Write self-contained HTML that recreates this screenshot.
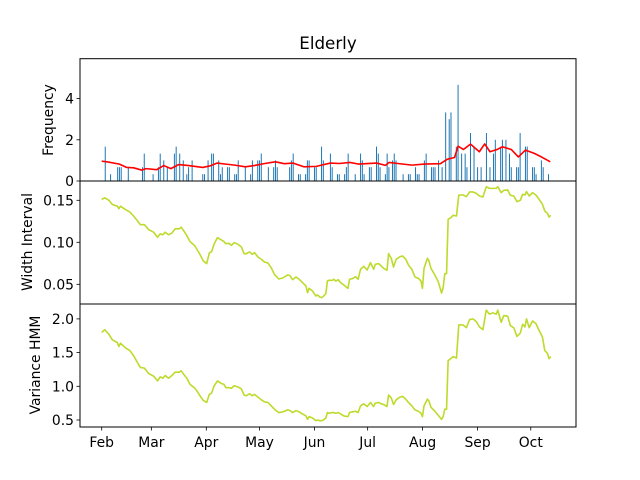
<!DOCTYPE html>
<html><head><meta charset="utf-8"><style>
html,body{margin:0;padding:0;background:#fff;}
svg{display:block;font-family:"DejaVu Sans","Liberation Sans",sans-serif;}
</style></head><body>
<svg id="chart" width="640" height="480" viewBox="0 0 640 480"></svg>
<script>
// ---- data ----
const monthLabels = ["Feb","Mar","Apr","May","Jun","Jul","Aug","Sep","Oct"];
const monthDays = [0,28,59,89,120,150,181,212,242];
const freqTicks = [0,2,4];
const widthTicks = [0.05,0.10,0.15];
const widthTickLabels = ["0.05","0.10","0.15"];
const varTicks = [0.5,1.0,1.5,2.0];
const varTickLabels = ["0.5","1.0","1.5","2.0"];

const barDays = [2,5,9,10,11,15,23,24,29,32,33,35,37,41,42,44,46,48,49,51,57,58,60,62,63,66,67,68,71,72,75,76,77,81,84,85,88,89,90,94,97,98,99,106,107,108,111,112,115,116,117,120,121,124,125,129,130,133,134,137,138,139,143,146,147,148,151,152,155,156,157,160,161,162,164,165,166,170,173,174,177,178,179,182,183,186,187,188,190,192,194,196,197,200,201,203,205,206,208,210,212,214,217,219,221,222,225,226,228,230,231,234,235,236,239,240,243,244,245,248,249,252];
const barVals = [1.67,0.33,0.67,0.67,0.67,0.67,0.67,1.33,0.33,0.67,1.33,1,0.67,1.33,1.67,1.33,1,0.33,0.67,1,0.33,0.33,1,1.33,1.33,1,0.33,0.67,0.67,0.67,0.33,0.33,1,0.67,0.33,1,1,1,1.33,0.67,0.67,1,0.67,0.67,1,1.33,0.33,0.33,0.33,1,1,0.67,0.67,1.67,1,1.33,0.67,0.33,0.33,0.33,0.67,1.33,0.33,1.33,1,0.33,0.67,0.67,1.67,1.33,0.67,0.33,1.33,0.67,1,1.33,1,0.33,0.33,0.33,0.67,0.33,0.33,1,1.33,0.67,0.67,0.67,1,0.67,3.33,3.0,3.33,1.67,4.67,1.33,1.33,0.67,2.33,1.67,0.67,0.67,2.33,0.67,1.33,2.0,1.67,2.0,2.0,1.33,0.67,0.67,0.67,2.33,1.67,1.67,0.67,0.67,0.33,1,0.67,0.33];

const meanDays = [0,3,10,14,18,22.5,25,31,35,39,43.5,49,57,61,65,70,75,81,86,92,98,103,108,114,121,129,134,140,145,155,160,162,167,175,182,191,195,199,201,204,208,213,216,219,223,226,231,235,239,244,248,253];
const meanVals = [0.96,0.93,0.82,0.66,0.64,0.53,0.6,0.55,0.75,0.6,0.8,0.75,0.66,0.73,0.87,0.82,0.77,0.69,0.75,0.85,0.93,0.84,0.87,0.69,0.71,0.87,0.85,0.9,0.82,0.87,0.76,0.9,0.85,0.77,0.82,0.84,1.06,1.14,1.69,1.53,1.79,1.42,1.8,1.42,1.53,1.66,1.53,1.17,1.5,1.34,1.17,0.93];

const lineDays = [0,1.7,4.1,6.0,8.8,9.7,10.6,13.4,15.9,18.1,20.0,21.8,24.1,26.5,29.3,31.5,33.0,34.5,35.8,37.7,39.6,41.4,43.7,44.8,46.5,48.0,49.8,52.6,54.5,55.4,57.3,59.2,60.7,62.0,63.5,65.3,67.6,68.9,70.0,71.7,73.2,74.7,76.9,78.8,80.3,81.6,83.4,84.9,86.2,88.1,90.0,91.8,93.7,95.6,97.4,99.9,102.1,104.9,106.2,107.7,109.6,111.4,113.3,115.2,116.1,117.0,118.9,120.8,121.7,123.0,124.1,125.0,126.4,127.3,
128.2,130.1,131.0,132.0,133.4,134.8,136.6,138.9,139.8,141.3,143.2,144.6,146.0,147.8,149.7,151.6,153.4,154.3,156.2,157.7,159.0,160.9,161.8,163.3,164.6,166.1,168.3,169.7,171.5,173.0,174.9,176.7,178.6,180.1,180.9,181.8,183.7,184.6,185.7,187.9,189.8,191.7,192.6,193.5,194.5,195.4,196.9,198.2,200.1,201.4,203.8,205.7,207.5,209.4,211.3,213.1,215.0,216.9,218.7,220.6,222.5,223.4,225.3,226.8,229.0,230.5,232.4,234.2,236.1,237.4,238.7,239.6,241.1,243.0,244.9,246.7,248.6,249.9,251.4,252.3,253.3];

const widthVals = [0.151,0.153,0.150,0.145,0.143,0.140,0.143,0.139,0.136,0.131,0.126,0.121,0.121,0.115,0.112,0.106,0.110,0.109,0.112,0.109,0.111,0.116,0.116,0.118,0.113,0.108,0.101,0.0956,0.0889,0.0857,0.0778,0.0746,0.0873,0.0889,0.0984,0.1055,0.1027,0.101,0.0984,0.0988,0.0964,0.0996,0.0976,0.0944,0.0865,0.0865,0.0885,0.0857,0.0877,0.0825,0.0798,0.0765,0.0754,0.0698,0.0619,0.0563,0.0575,0.0611,0.0603,0.0555,0.0587,0.0560,0.0519,0.0480,0.0400,0.0452,0.0420,0.0361,0.0373,0.0349,0.0341,0.0357,0.0388,0.0539,
0.0548,0.0548,0.0560,0.0539,0.0555,0.0519,0.0492,0.0452,0.0560,0.0567,0.0591,0.0560,0.0679,0.0714,0.0670,0.0758,0.0679,0.0738,0.0746,0.0718,0.0690,0.0667,0.0865,0.0810,0.0706,0.0798,0.0829,0.0837,0.0798,0.0730,0.0679,0.0587,0.0571,0.0539,0.0452,0.0690,0.0810,0.0778,0.0690,0.0611,0.0531,0.0396,0.0460,0.0627,0.0627,0.1273,0.1293,0.1321,0.1313,0.1563,0.1563,0.1543,0.1599,0.1599,0.1583,0.1551,0.1539,0.1662,0.1642,0.1642,0.1642,0.1662,0.1591,0.1619,0.1623,0.1559,0.1551,0.1484,0.1500,0.1571,0.1563,0.1603,0.1551,0.1591,0.1563,0.1512,0.1452,0.1373,0.1345,0.1301,0.1321];

const varVals = [1.80,1.84,1.77,1.69,1.65,1.59,1.64,1.57,1.53,1.45,1.36,1.28,1.27,1.19,1.15,1.08,1.14,1.12,1.16,1.12,1.16,1.21,1.21,1.23,1.17,1.12,1.03,0.97,0.90,0.86,0.79,0.76,0.88,0.90,1.01,1.08,1.04,1.03,0.98,0.98,0.97,1.01,0.99,0.96,0.87,0.86,0.89,0.86,0.88,0.84,0.80,0.77,0.76,0.71,0.66,0.61,0.62,0.65,0.64,0.61,0.64,0.62,0.59,0.56,0.51,0.55,0.53,0.49,0.50,0.49,0.49,0.50,0.53,0.61,
0.60,0.61,0.61,0.60,0.61,0.59,0.56,0.55,0.61,0.62,0.63,0.61,0.71,0.74,0.70,0.76,0.70,0.75,0.76,0.74,0.73,0.70,0.87,0.83,0.73,0.80,0.84,0.85,0.81,0.76,0.71,0.65,0.63,0.60,0.55,0.71,0.81,0.78,0.69,0.63,0.57,0.51,0.55,0.66,0.66,1.38,1.41,1.44,1.42,1.91,1.91,1.87,1.99,2.00,1.96,1.88,1.84,2.13,2.07,2.09,2.07,2.13,1.95,2.05,2.04,1.90,1.87,1.74,1.79,1.92,1.88,2.00,1.87,1.97,1.93,1.83,1.73,1.53,1.49,1.41,1.44];

// ---- layout ----
const NS = "http://www.w3.org/2000/svg";
const svg = document.getElementById("chart");
const L = 80, R = 576;
const P1 = {top:58.7, bot:181, min:0, max:(181-58.7)/20.6};
const P2 = {top:181, bot:304, min:0.1-(304-242.3)/840, max:0.1+(242.3-181)/840};
const P3 = {top:304, bot:427, min:1-(427-386.3)/67.4, max:1+(386.3-304)/67.4};
function xs(d){ return 101.7 + d*1.773; }
function ys(p,v){ return p.bot - (v-p.min)/(p.max-p.min)*(p.bot-p.top); }
function el(tag, attrs, parent){
  const e = document.createElementNS(NS, tag);
  for (const k in attrs) e.setAttribute(k, attrs[k]);
  (parent||svg).appendChild(e);
  return e;
}
function txt(s, attrs, parent){ const t = el("text", attrs, parent); t.textContent = s; return t; }

// title
const title = txt("Elderly", {x:328, y:49, "font-size":"16.7", "text-anchor":"middle", fill:"#000"});



// panel 1 bars
const g1 = el("g", {});


barDays.forEach((d,i)=>{
  const y = ys(P1, barVals[i]);
  const b = el("rect", {x:xs(d)-0.5, y:y, width:1.0, height:P1.bot-y, fill:"#1f77b4"}, g1);
  
  
});
const meanPath = el("polyline", {points: meanDays.map((d,i)=>xs(d)+","+ys(P1,meanVals[i])).join(" "), fill:"none", stroke:"#ff0000", "stroke-width":"1.6", "stroke-linejoin":"round"}, g1);



// panel 2, 3 lines
const wl = el("polyline", {points: lineDays.map((d,i)=>xs(d)+","+ys(P2,widthVals[i])).join(" "), fill:"none", stroke:"#bcdb2c", "stroke-width":"1.6", "stroke-linejoin":"round"});


const vl = el("polyline", {points: lineDays.map((d,i)=>xs(d)+","+ys(P3,varVals[i])).join(" "), fill:"none", stroke:"#bcdb2c", "stroke-width":"1.6", "stroke-linejoin":"round"});



// frames
[P1,P2,P3].forEach((p,i)=>{
  const f = el("rect", {x:L, y:p.top, width:R-L, height:p.bot-p.top, fill:"none", stroke:"#000", "stroke-width":"1"});
  
  
});

// y ticks
function yTicks(p, vals, labels, name){
  vals.forEach((v,i)=>{
    const y = ys(p,v);
    el("line", {x1:L-3.5, x2:L, y1:y, y2:y, stroke:"#000", "stroke-width":"0.8"});
    const t = txt(labels[i], {x:L-6, y:y+5, "font-size":"13.9", "text-anchor":"end", fill:"#000"});
    
    
  });
}
yTicks(P1, freqTicks, freqTicks.map(String), 'frequency-tick-label');
yTicks(P2, widthTicks, widthTickLabels, 'width-tick-label');
yTicks(P3, varTicks, varTickLabels, 'variance-tick-label');

// x ticks
monthDays.forEach((d,i)=>{
  const x = xs(d);
  el("line", {x1:x, x2:x, y1:427, y2:430.5, stroke:"#000", "stroke-width":"0.8"});
  const t = txt(monthLabels[i], {x:x, y:447, "font-size":"13.9", "text-anchor":"middle", fill:"#000"});
  
  
});

// y axis titles
function yTitle(s, x, y, name){
  const t = txt(s, {x:x, y:y, "font-size":"13.9", "text-anchor":"middle", fill:"#000", transform:"rotate(-90 "+x+" "+y+")"});
  
  
}
yTitle("Frequency", 53, 120, 'frequency-axis-title');
yTitle("Width Interval", 32, 242, 'width-axis-title');
yTitle("Variance HMM", 40, 365, 'variance-axis-title');
</script>
</body></html>
